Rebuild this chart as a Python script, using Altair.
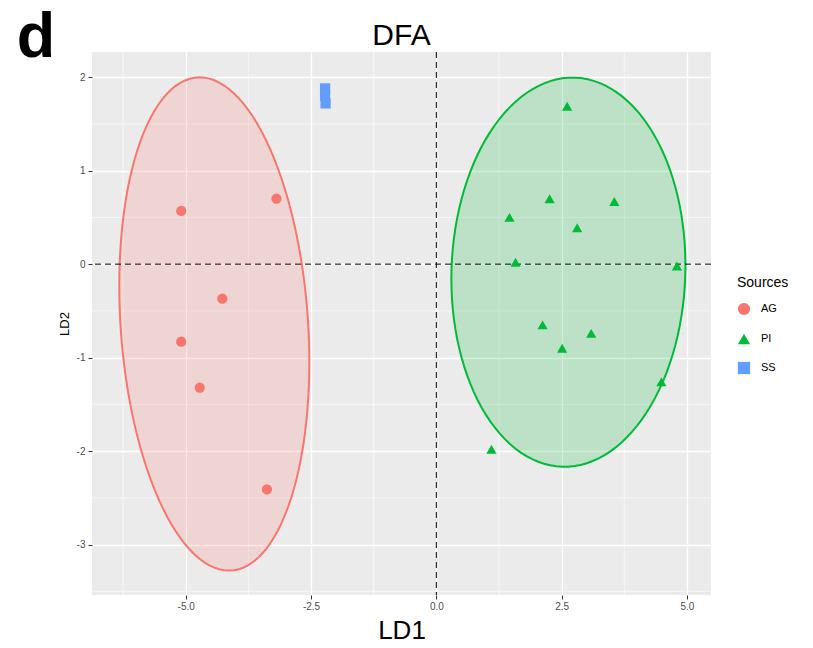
import altair as alt
import numpy as np
import pandas as pd

# ---- data ----
sources = ["AG", "PI", "SS"]
colors = ["#F8766D", "#00BA38", "#619CFF"]
shapes = ["circle", "triangle-up", "square"]

ag_x = [-5.09, -3.19, -4.27, -5.09, -4.72, -3.38]
ag_y = [0.57, 0.70, -0.37, -0.83, -1.32, -2.41]
pi_x = [2.61, 2.26, 3.55, 1.46, 2.81, 1.58, 4.80, 2.12, 3.09, 2.51, 4.49, 1.10]
pi_y = [1.69, 0.70, 0.67, 0.50, 0.39, 0.02, -0.02, -0.65, -0.74, -0.90, -1.26, -1.98]
ss_x = [-2.22, -2.22, -2.21]
ss_y = [1.88, 1.80, 1.72]

# ellipse parameters (centre, sd-x, sd-y, covariance)
ell_center = {"AG": (-4.43, -0.64), "PI": (2.635, -0.086)}
ell_sd = {"AG": (1.896, 2.639), "PI": (2.335, 2.082)}
ell_cov = {"AG": -0.77, "PI": 0.166}

x_ticks = [-5.0, -2.5, 0.0, 2.5, 5.0]
x_minor = [-6.25, -3.75, -1.25, 1.25, 3.75]
y_ticks = [-3, -2, -1, 0, 1, 2]
y_minor = [-3.5, -2.5, -1.5, -0.5, 0.5, 1.5]
x_dom = [-6.87, 5.48]
y_dom = [-3.54, 2.27]

pts = pd.DataFrame({
    "LD1": ag_x + pi_x + ss_x,
    "LD2": ag_y + pi_y + ss_y,
    "Sources": ["AG"] * len(ag_x) + ["PI"] * len(pi_x) + ["SS"] * len(ss_x),
})

rows = []
t = np.linspace(0, 2 * np.pi, 121)
for g in ["AG", "PI"]:
    sx, sy = ell_sd[g]
    cov = np.array([[sx * sx, ell_cov[g]], [ell_cov[g], sy * sy]])
    L = np.linalg.cholesky(cov)
    xy = L @ np.vstack([np.cos(t), np.sin(t)])
    cx, cy = ell_center[g]
    for i in range(len(t)):
        rows.append({"LD1": cx + xy[0, i], "LD2": cy + xy[1, i], "Sources": g, "i": i})
ell = pd.DataFrame(rows)

FONT = "Liberation Sans"
xs = alt.Scale(domain=x_dom, nice=False, zero=False)
ys = alt.Scale(domain=y_dom, nice=False, zero=False)
cs = alt.Scale(domain=sources, range=colors)
ss = alt.Scale(domain=sources, range=shapes)

xaxis = alt.Axis(values=x_ticks, title="LD1", grid=True, gridColor="white",
                 labelExpr="datum.value < 0 ? '-' + format(-datum.value, '.1f') : format(datum.value, '.1f')",
                 gridWidth=1.3, domain=False, tickColor="#333333", tickSize=4,
                 labelColor="#4D4D4D", labelFontSize=10, labelFont=FONT, labelPadding=2,
                 titleFont=FONT, titleFontSize=26, titleFontWeight="normal",
                 titleColor="black", titlePadding=6)
yaxis = alt.Axis(values=y_ticks, title="LD2", grid=True, gridColor="white",
                 labelExpr="datum.value < 0 ? '-' + format(-datum.value, 'd') : format(datum.value, 'd')",
                 gridWidth=1.3, domain=False, tickColor="#333333", tickSize=4,
                 labelColor="#4D4D4D", labelFontSize=10, labelFont=FONT, labelPadding=3,
                 titleFont=FONT, titleFontSize=13, titleFontWeight="normal",
                 titleColor="black", titlePadding=5)

vminor = alt.Chart(pd.DataFrame({"v": x_minor})).mark_rule(color="white", strokeWidth=0.6).encode(
    x=alt.X("v:Q", scale=xs, axis=xaxis))
hminor = alt.Chart(pd.DataFrame({"v": y_minor})).mark_rule(color="white", strokeWidth=0.6).encode(
    y=alt.Y("v:Q", scale=ys, axis=yaxis))

ell_layers = []
for g, c in zip(["AG", "PI"], colors[:2]):
    ell_layers.append(
        alt.Chart(ell[ell.Sources == g]).mark_line(
            stroke=c, strokeWidth=2, fill=c, fillOpacity=0.2, interpolate="linear-closed"
        ).encode(
            x=alt.X("LD1:Q", scale=xs),
            y=alt.Y("LD2:Q", scale=ys),
            order="i:Q",
        )
    )

vzero = alt.Chart(pd.DataFrame({"v": [0]})).mark_rule(color="black", strokeDash=[6, 4], strokeWidth=1).encode(
    x=alt.X("v:Q", scale=xs))
hzero = alt.Chart(pd.DataFrame({"v": [0]})).mark_rule(color="black", strokeDash=[6, 4], strokeWidth=1).encode(
    y=alt.Y("v:Q", scale=ys))

points = alt.Chart(pts).mark_point(filled=True, opacity=1, size=105).encode(
    x=alt.X("LD1:Q", scale=xs),
    y=alt.Y("LD2:Q", scale=ys),
    color=alt.Color("Sources:N", scale=cs, legend=alt.Legend(
        title="Sources", orient="none", legendX=645, legendY=224,
        titleFont=FONT, titleFontSize=14, titleFontWeight="normal", titleColor="black",
        labelFont=FONT, labelFontSize=11, labelColor="black",
        symbolSize=150, rowPadding=16, titlePadding=12, labelOffset=10)),
    shape=alt.Shape("Sources:N", scale=ss),
)

letter = alt.Chart(pd.DataFrame({"t": ["d"]})).mark_text(
    font=FONT, fontSize=63, fontWeight="bold", align="center", baseline="alphabetic", color="black"
).encode(x=alt.value(-56), y=alt.value(5), text="t:N")

title = alt.Chart(pd.DataFrame({"t": ["DFA"]})).mark_text(
    font=FONT, fontSize=30, fontWeight="normal", align="center", baseline="alphabetic", color="black"
).encode(x=alt.value(309.5), y=alt.value(-7), text="t:N")

chart = alt.layer(vminor, hminor, *ell_layers, vzero, hzero, points, letter, title).properties(
    width=619, height=543,
    autosize=alt.AutoSizeParams(type="none"),
    padding={"left": 84, "top": 44, "right": 94, "bottom": 45},
).configure_view(fill="#EBEBEB", stroke=None)

chart.save("out.html", embed_options={"renderer": "svg", "actions": False})
